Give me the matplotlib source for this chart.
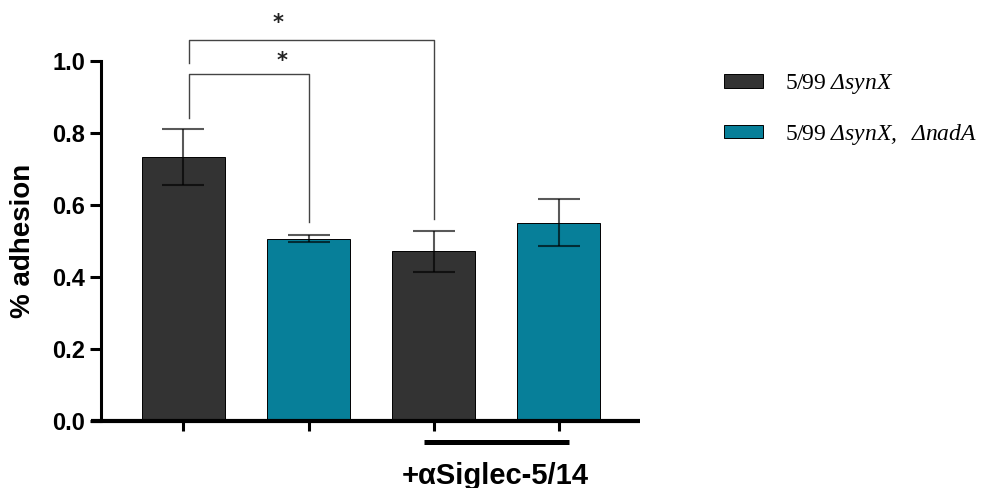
import matplotlib
matplotlib.use("Agg")
import matplotlib.pyplot as plt
from matplotlib.patches import Patch

# ---- data ----
groups = ["5/99 ΔsynX", "5/99 ΔsynX, ΔnadA", "5/99 ΔsynX + αSiglec-5/14", "5/99 ΔsynX, ΔnadA + αSiglec-5/14"]
means = [0.733, 0.506, 0.470, 0.550]
errors = [0.078, 0.0095, 0.056, 0.065]
series_of_bar = [0, 1, 0, 1]
series_labels = [r"5/99 $\mathrm{ΔsynX}$", r"5/99 $\mathrm{ΔsynX,\ \ ΔnadA}$"]
series_colors = ["#333333", "#077F99"]
yticks = [0.0, 0.2, 0.4, 0.6, 0.8, 1.0]
ytick_labels = ["0.0", "0.2", "0.4", "0.6", "0.8", "1.0"]
ylabel = "% adhesion"
treatment_label = "+αSiglec-5/14"
sig_pairs = [(0, 1), (0, 2)]
sig_marks = ["*", "*"]

plt.rcParams['mathtext.fontset'] = 'custom'
plt.rcParams['mathtext.rm'] = 'Liberation Serif:italic'
plt.rcParams['mathtext.it'] = 'Liberation Serif:italic'
plt.rcParams['mathtext.bf'] = 'Liberation Serif:bold'

W, H = 996, 488
fig = plt.figure(figsize=(W / 100, H / 100), dpi=100)

# pixel geometry
x0_px, dx_px = 183.4, 125.1
left_px, right_px = 100.7, 640.0
top_px, bot_px = 60.7, 420.7
ax = fig.add_axes([left_px / W, (H - bot_px) / H, (right_px - left_px) / W, (bot_px - top_px) / H])
ax.set_xlim((left_px - x0_px) / dx_px, (right_px - x0_px) / dx_px)
ax.set_ylim(0, 1)

x = list(range(len(means)))
colors = [series_colors[s] for s in series_of_bar]
ax.bar(x, means, width=0.667, color=colors, edgecolor="black", linewidth=0.7, zorder=2)
ax.errorbar(x, means, yerr=errors, fmt="none", ecolor="black", alpha=0.65,
            elinewidth=1.5, capsize=15, capthick=1.5, zorder=3)

# spines
for s in ["top", "right", "bottom"]:
    ax.spines[s].set_visible(False)
ax.spines["left"].set_linewidth(2.2)
ax.spines["left"].set_bounds(0, 1)
ax.plot([(91 - x0_px) / dx_px, (right_px - x0_px) / dx_px], [0, 0], color="black",
        lw=3.0, solid_capstyle="butt", clip_on=False, zorder=4)

ax.set_yticks(yticks)
ax.set_yticklabels(ytick_labels)
ax.tick_params(axis="y", direction="out", length=7.7, width=2.2, pad=3.6,
               labelsize=17)
for lab in ax.get_yticklabels():
    lab.set_fontfamily("Liberation Sans")
    lab.set_fontweight("bold")
ax.set_xticks(x)
ax.set_xticklabels([])
ax.tick_params(axis="x", direction="out", length=7.2, width=2.2)

fig.text(23.3 / W, 1 - 241 / H, ylabel, rotation=90, ha="center", va="center",
         fontsize=20, fontweight="bold", family="Liberation Sans")

# significance brackets
bracket_tops = [0.964, 1.058]
left_feet = [0.840, 0.994]
right_feet = [0.552, 0.560]
star_pos = [(0.79, 0.998), (0.759, 1.106)]
for (a, b), top, lf, rf, (sx, sy), mark in zip(sig_pairs, bracket_tops, left_feet, right_feet, star_pos, sig_marks):
    xa = a + 0.042
    xb = b + 0.004
    ax.plot([xa, xa, xb, xb], [lf, top, top, rf], color="#444444", lw=1.0,
            clip_on=False, zorder=3)
    ax.text(sx, sy, mark, ha="center", va="center", fontsize=15, fontweight="bold",
            family="DejaVu Sans", color="#222222", clip_on=False)

# treatment bar and label
ax.plot([1.926, 3.082], [-0.0597, -0.0597], color="black", lw=3.6,
        solid_capstyle="butt", clip_on=False)
ax.text(2.493, -0.175, treatment_label, ha="center", va="baseline", fontsize=21,
        fontweight="bold", family="Liberation Sans", clip_on=False)

# legend
handles = [Patch(facecolor=c, edgecolor="black", linewidth=0.7) for c in series_colors]
fig.legend(handles, series_labels, loc="upper left",
           bbox_to_anchor=(724.3 / W, 1 - 72 / H), frameon=False,
           prop={"family": "Liberation Serif", "size": 17},
           handlelength=1.65, handleheight=0.52, handletextpad=0.92,
           labelspacing=1.1, borderpad=0, borderaxespad=0)

fig.savefig("out.png", dpi=100)
